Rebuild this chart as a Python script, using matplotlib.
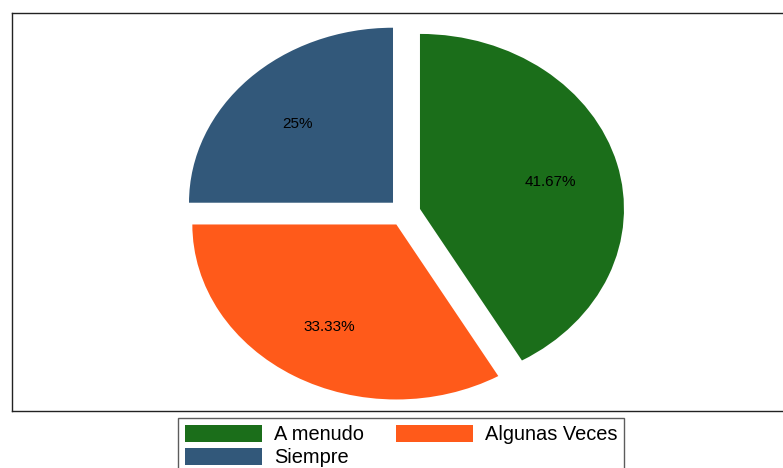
import matplotlib
matplotlib.use('Agg')
import matplotlib.pyplot as plt
import matplotlib.transforms as mtransforms
from matplotlib.patches import Patch

plt.rcParams['font.family'] = ['Liberation Sans', 'DejaVu Sans']

# data
categories = ['A menudo', 'Algunas Veces', 'Siempre']
shares = [41.67, 33.33, 25.0]
colors = ['#1b6e1a', '#ff5a1a', '#32587a']


def pct_label(p):
    s = f'{p:.2f}'.rstrip('0').rstrip('.')
    return s + '%'


W, H = 783, 468
fig = plt.figure(figsize=(W / 100, H / 100), dpi=100)

# plot region box (right edge runs off the image)
left_px, right_px, top_px, bot_px = 12, 800, 13, 411
ax = fig.add_axes([left_px / W, 1 - bot_px / H, (right_px - left_px) / W, (bot_px - top_px) / H])

wedges, texts, autotexts = ax.pie(
    shares, colors=colors, startangle=90, counterclock=False,
    explode=[0.079] * len(shares), autopct=pct_label,
    pctdistance=0.66, wedgeprops=dict(linewidth=0),
    textprops=dict(fontsize=11, color='black'))

# nudge labels down a little
shift = mtransforms.ScaledTranslation(0, -3 / 100, fig.dpi_scale_trans)
for t in autotexts:
    t.set_transform(t.get_transform() + shift)

# Stata-style stretched pie: fit the unit pie to the plot region
cx, cy, rx, ry = 404.4, 212.5, 204, 175
ax.set_aspect('auto')
ax.set_xlim((left_px - cx) / rx, (right_px - cx) / rx)
ax.set_ylim((cy - bot_px) / ry, (cy - top_px) / ry)
ax.set_frame_on(True)
for s in ax.spines.values():
    s.set_color('#222222')
    s.set_linewidth(1.0)
ax.set_xticks([])
ax.set_yticks([])

# legend in row order: A menudo, Algunas Veces / Siempre
handles = [Patch(facecolor=c, edgecolor='none') for c in colors]
order = [0, 2, 1]
leg = fig.legend([handles[i] for i in order], [categories[i] for i in order],
                 ncol=2, loc='upper left', bbox_to_anchor=(178 / W, 1 - 418 / H),
                 fontsize=14.4, frameon=True, fancybox=False, borderaxespad=0,
                 handlelength=3.85, handleheight=0.9, handletextpad=0.6,
                 columnspacing=1.6, borderpad=0.35, labelspacing=0.2)
leg.get_frame().set_edgecolor('#333333')
leg.get_frame().set_linewidth(1.0)

fig.savefig('out.png', dpi=100)
